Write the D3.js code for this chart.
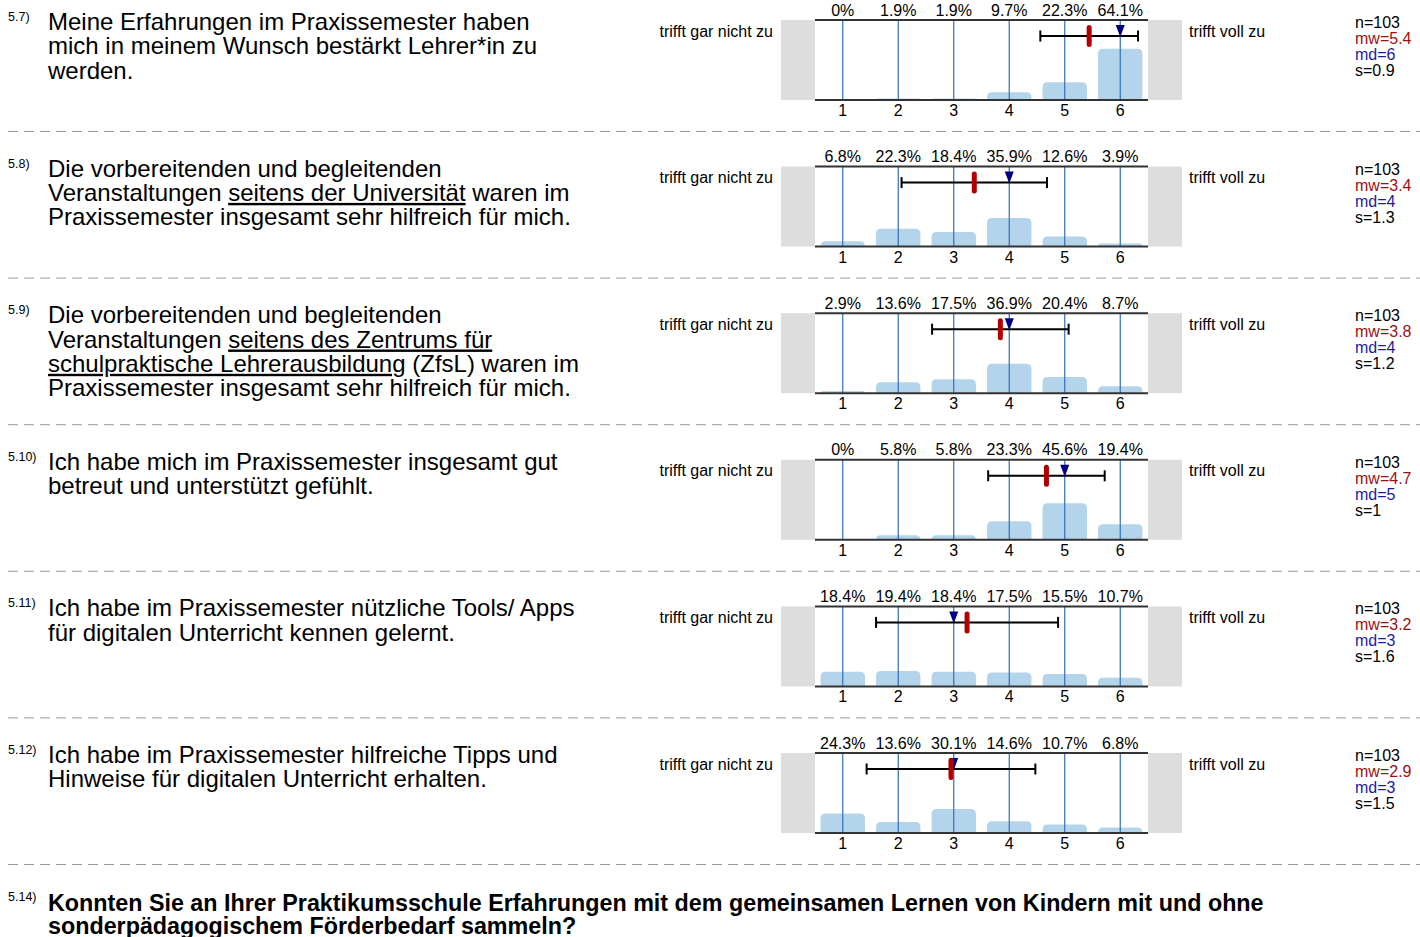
<!DOCTYPE html>
<html><head><meta charset="utf-8">
<script src="https://cdn.jsdelivr.net/npm/d3@7"></script>
<style>
html,body{margin:0;padding:0;background:#fff;}
svg{display:block;font-family:"Liberation Sans",Arial,sans-serif;}
</style></head>
<body>
<svg id="chart" width="1420" height="937"></svg>
<script>
// ---- data ----
const categories = [1, 2, 3, 4, 5, 6];
const ids = ["5.7)", "5.8)", "5.9)", "5.10)", "5.11)", "5.12)"];
const questions = [
  ["Meine Erfahrungen im Praxissemester haben", "mich in meinem Wunsch bestärkt Lehrer*in zu", "werden."],
  ["Die vorbereitenden und begleitenden", "Veranstaltungen _seitens der Universität_ waren im", "Praxissemester insgesamt sehr hilfreich für mich."],
  ["Die vorbereitenden und begleitenden", "Veranstaltungen _seitens des Zentrums für_", "_schulpraktische Lehrerausbildung_ (ZfsL) waren im", "Praxissemester insgesamt sehr hilfreich für mich."],
  ["Ich habe mich im Praxissemester insgesamt gut", "betreut und unterstützt gefühlt."],
  ["Ich habe im Praxissemester nützliche Tools/ Apps", "für digitalen Unterricht kennen gelernt."],
  ["Ich habe im Praxissemester hilfreiche Tipps und", "Hinweise für digitalen Unterricht erhalten."]
];
const percents = [
  [0, 1.9, 1.9, 9.7, 22.3, 64.1],
  [6.8, 22.3, 18.4, 35.9, 12.6, 3.9],
  [2.9, 13.6, 17.5, 36.9, 20.4, 8.7],
  [0, 5.8, 5.8, 23.3, 45.6, 19.4],
  [18.4, 19.4, 18.4, 17.5, 15.5, 10.7],
  [24.3, 13.6, 30.1, 14.6, 10.7, 6.8]
];
const nValues = [103, 103, 103, 103, 103, 103];
const means = [5.44, 3.37, 3.84, 4.67, 3.24, 2.95];
const medians = [6, 4, 4, 5, 3, 3];
const sds = [0.88, 1.31, 1.23, 1.05, 1.64, 1.52];
const mwLabels = ["5.4", "3.4", "3.8", "4.7", "3.2", "2.9"];
const sLabels = ["0.9", "1.3", "1.2", "1", "1.6", "1.5"];
const leftLabel = "trifft gar nicht zu";
const rightLabel = "trifft voll zu";
const nextId = "5.14)";
const nextQuestion = ["Konnten Sie an Ihrer Praktikumsschule Erfahrungen mit dem gemeinsamen Lernen von Kindern mit und ohne", "sonderpädagogischem Förderbedarf sammeln?"];

// ---- layout ----
const svg = d3.select("#chart");
const plotLeft = 815, plotRight = 1148, plotH = 80;
const rowStep = 146.6, firstTop = 20;
const x = d3.scaleLinear().domain([0.5, 6.5]).range([plotLeft, plotRight]);
const xb = d3.scaleBand().domain(categories).range([plotLeft, plotRight]).paddingInner(0.2).paddingOuter(0.1);

function roundedTopBar(x0, y0, w, h, r) {
  r = Math.min(r, h, w / 2);
  if (h <= 0) return "";
  return `M${x0},${y0 + h}V${y0 + r}Q${x0},${y0} ${x0 + r},${y0}H${x0 + w - r}Q${x0 + w},${y0} ${x0 + w},${y0 + r}V${y0 + h}Z`;
}

percents.forEach((pcts, i) => {
  const top = firstTop + i * rowStep;
  const bottom = top + plotH;
  const g = svg.append("g");
  const y = d3.scaleLinear().domain([0, 100]).range([bottom, top]);

  // id + question
  g.append("text").attr("x", 8).attr("y", top + 1).attr("font-size", 12.5).attr("fill", "#000").text(ids[i]);
  questions[i].forEach((line, li) => {
    const t = g.append("text").attr("x", 48).attr("y", top + 10 + li * 24.3).attr("font-size", 24).attr("fill", "#000");
    line.split("_").forEach((seg, si) => {
      if (!seg) return;
      const ts = t.append("tspan").text(seg);
      if (si % 2 === 1) ts.attr("text-decoration", "underline");
    });
  });

  // gray side boxes
  g.append("rect").attr("x", 781).attr("y", top).attr("width", plotLeft - 781).attr("height", plotH).attr("fill", "#dddddd");
  g.append("rect").attr("x", plotRight).attr("y", top).attr("width", 1182 - plotRight).attr("height", plotH).attr("fill", "#dddddd");

  // side labels
  g.append("text").attr("x", 773).attr("y", top + 16.5).attr("text-anchor", "end").attr("font-size", 16).attr("fill", "#000").text(leftLabel);
  g.append("text").attr("x", 1189).attr("y", top + 16.5).attr("font-size", 16).attr("fill", "#000").text(rightLabel);

  // bars
  g.selectAll("path.bar").data(pcts).enter().append("path").attr("class", "bar")
    .attr("d", (d, k) => roundedTopBar(xb(categories[k]), y(d), xb.bandwidth(), bottom - y(d), 5))
    .attr("fill", "#b3d4eb");

  // vertical lines
  g.selectAll("line.v").data(categories).enter().append("line")
    .attr("x1", d => x(d)).attr("x2", d => x(d)).attr("y1", top).attr("y2", bottom)
    .attr("stroke", "#2f6fb8").attr("stroke-width", 1.2);

  // top and bottom border lines
  [top, bottom].forEach(yy => g.append("line").attr("x1", plotLeft).attr("x2", plotRight).attr("y1", yy).attr("y2", yy).attr("stroke", "#333").attr("stroke-width", 2));

  // percent labels
  g.selectAll("text.p").data(pcts).enter().append("text")
    .attr("x", (d, k) => x(categories[k])).attr("y", top - 4.5).attr("text-anchor", "middle").attr("font-size", 16).attr("fill", "#000")
    .text(d => d + "%");
  // tick labels
  g.selectAll("text.t").data(categories).enter().append("text")
    .attr("x", d => x(d)).attr("y", bottom + 16).attr("text-anchor", "middle").attr("font-size", 16).attr("fill", "#000")
    .text(d => d);

  // error bar
  const ey = top + 16;
  const lo = x(means[i] - sds[i]), hi = x(means[i] + sds[i]);
  g.append("line").attr("x1", lo).attr("x2", hi).attr("y1", ey).attr("y2", ey).attr("stroke", "#000").attr("stroke-width", 2);
  [lo, hi].forEach(xx => g.append("line").attr("x1", xx).attr("x2", xx).attr("y1", ey - 5.5).attr("y2", ey + 5.5).attr("stroke", "#000").attr("stroke-width", 2));

  // median triangle
  const mx = x(medians[i]);
  g.append("path").attr("d", `M${mx - 4.5},${top + 5}L${mx + 4.5},${top + 5}L${mx},${top + 17}Z`).attr("fill", "#000080");
  // mean marker
  g.append("rect").attr("x", x(means[i]) - 2.5).attr("y", top + 5).attr("width", 5).attr("height", 22).attr("rx", 2.5).attr("fill", "#b00000");

  // stats
  const stats = [["n=" + nValues[i], "#000"], ["mw=" + mwLabels[i], "#9b1111"], ["md=" + medians[i], "#1c1ca0"], ["s=" + sLabels[i], "#000"]];
  stats.forEach((s, k) => g.append("text").attr("x", 1355).attr("y", top + 8 + k * 16).attr("font-size", 16).attr("fill", s[1]).text(s[0]));

  // separator
  g.append("line").attr("x1", 8).attr("x2", 1420).attr("y1", top + 111.5).attr("y2", top + 111.5)
    .attr("stroke", "#999").attr("stroke-width", 1).attr("stroke-dasharray", "10,6");
});

// next question
const nTop = firstTop + 6 * rowStep;
svg.append("text").attr("x", 8).attr("y", nTop + 1).attr("font-size", 12.5).attr("fill", "#000").text(nextId);
nextQuestion.forEach((line, li) => svg.append("text").attr("x", 48).attr("y", nTop + 11.5 + li * 23).attr("font-size", 23.3).attr("font-weight", "bold").attr("fill", "#000").text(line));
</script>
</body></html>
